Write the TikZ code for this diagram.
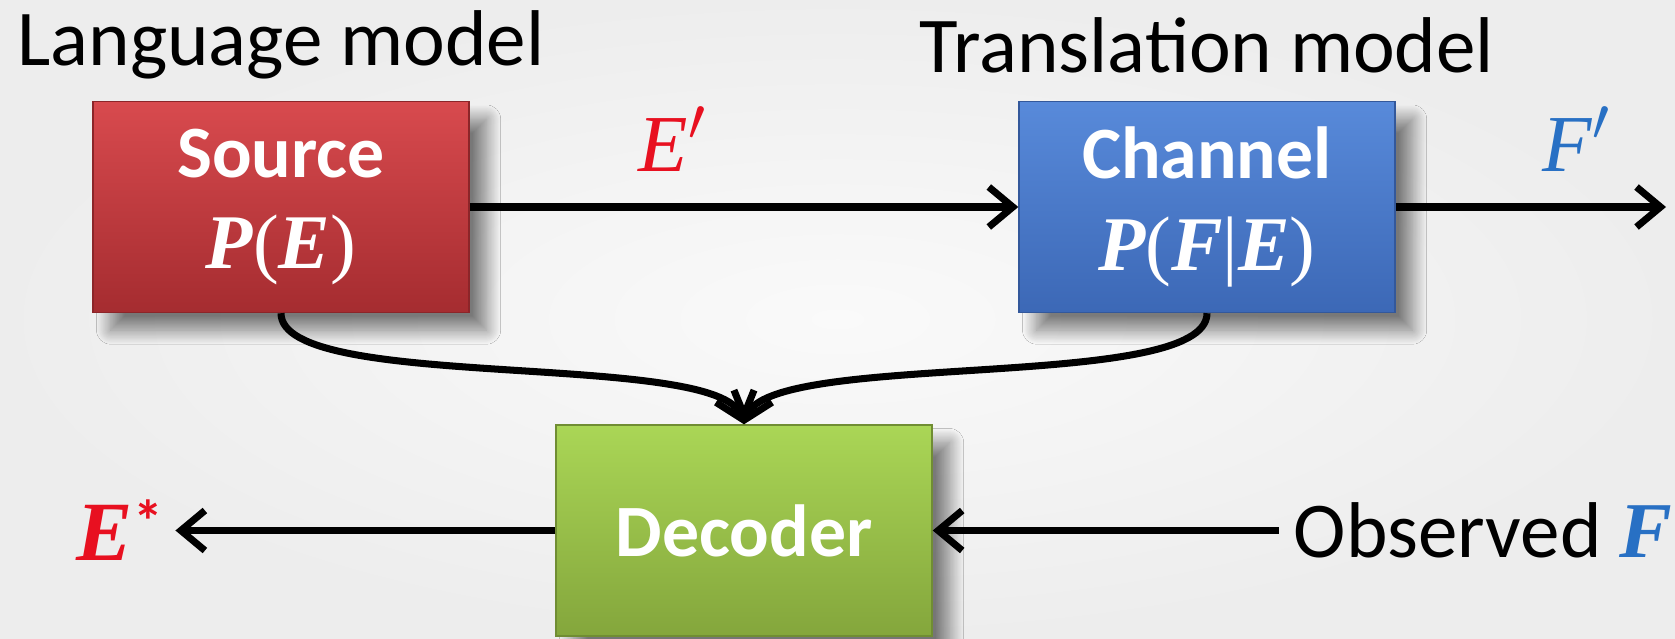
\documentclass[tikz,border=0pt]{standalone}
\usepackage{fontspec}
\usepackage{tikz}
\usetikzlibrary{positioning,arrows.meta,shadows.blur}

\setmainfont{Carlito}
\newfontfamily\mfont{Liberation Serif}
\newcommand{\bvar}[1]{{\mfont\bfseries\itshape #1}}
\newcommand{\ivar}[1]{{\mfont\itshape #1}}

\definecolor{srctop}{RGB}{216,74,78}
\definecolor{srcbot}{RGB}{165,44,48}
\definecolor{chtop}{RGB}{88,138,218}
\definecolor{chbot}{RGB}{60,104,182}
\definecolor{dectop}{RGB}{170,214,86}
\definecolor{decbot}{RGB}{132,166,60}
\definecolor{hired}{RGB}{232,16,32}
\definecolor{hiblue}{RGB}{40,112,196}

\tikzset{
  block/.style={rectangle, minimum width=3.76cm, minimum height=2.11cm,
    text=white, align=center, font=\fontsize{21}{26}\selectfont\bfseries,
    blur shadow={shadow xshift=5pt, shadow yshift=-5pt, shadow blur radius=4pt,
      shadow blur steps=25, shadow opacity=50}},
  caption/.style={font=\fontsize{22.5}{27}\selectfont},
  arr/.style={line width=2pt, -{Straight Barb[length=2.4mm,width=4mm]}},
}

\begin{document}
\begin{tikzpicture}[node distance=2cm,on grid]
  % background
  \shade[inner color=white!98!black, outer color=white!93!black]
    (0,0) rectangle (16.75,-6.38);
  \useasboundingbox (0,0) rectangle (16.75,-6.38);

  % the three boxes
  \node[block, top color=srctop, bottom color=srcbot, draw=srcbot!85!black, line width=0.4pt] (source) at (2.81,-2.07)
    {Source\\\fontsize{22}{26}\selectfont\bvar{P}{\mfont\mdseries(}\bvar{E}{\mfont\mdseries)}};
  \node[block, top color=chtop, bottom color=chbot, draw=chbot!85!black, line width=0.4pt] (channel) [right=9.26cm of source]
    {Channel\\\fontsize{22}{26}\selectfont\bvar{P}{\mfont\mdseries(}\bvar{F}{\mfont\mdseries|}\bvar{E}{\mfont\mdseries)}};
  \node[block, top color=dectop, bottom color=decbot, draw=decbot!85!black, line width=0.4pt] (decoder) [below right=3.235cm and 4.63cm of source]
    {Decoder};

  % captions above the boxes
  \node[caption] (lm) [above=1.62cm of source] {Language model};
  \node[caption] (tm) [above=1.62cm of channel] {Translation model};

  % outer labels
  \coordinate[right=4.59cm of channel] (fend);
  \node[font=\fontsize{24}{28}\selectfont, text=hired] (estar) [left=6.24cm of decoder]
    {\bvar{E}\raisebox{0.45ex}{\fontsize{17}{18}\selectfont\bfseries *}};
  \node[caption, inner sep=4pt] (obs) [right=7.39cm of decoder]
    {Observed \textcolor{hiblue}{\bvar{F}}};

  % connectors
  \draw[arr] (source) -- node[pos=0.37, above=2mm, font=\fontsize{23}{27}\selectfont, text=hired] (eprime) {\ivar{E}$'$} (channel);
  \draw[arr] (channel) -- node[pos=0.67, above=2mm, font=\fontsize{23}{27}\selectfont, text=hiblue] (fprime) {\ivar{F}$'$} (fend);
  \draw[arr] (source.south) .. controls +(0,-0.8) and +(-0.24,0.75) .. (decoder.north);
  \draw[arr] (channel.south) .. controls +(0,-0.8) and +(0.24,0.75) .. (decoder.north);
  \draw[arr] (decoder) -- (estar);
  \draw[arr] (obs) -- (decoder);
\end{tikzpicture}
\end{document}
